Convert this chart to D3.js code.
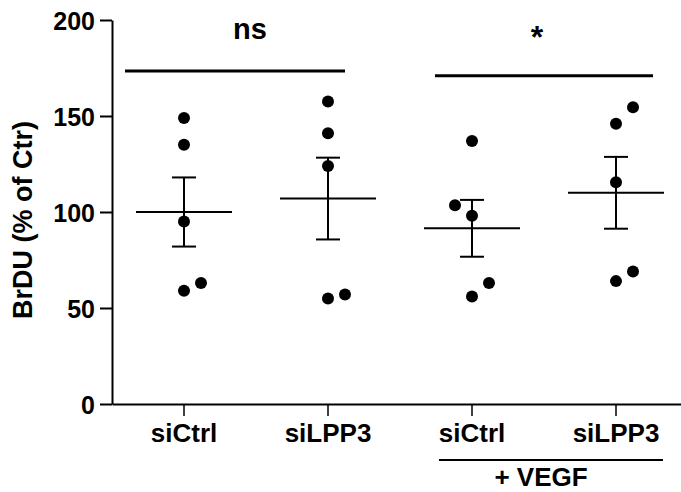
<!DOCTYPE html>
<html>
<head>
<meta charset="utf-8">
<script src="https://cdn.jsdelivr.net/npm/d3@7"></script>
<style>
  html, body { margin: 0; padding: 0; background: #fff; }
  svg { display: block; }
  text { font-family: "Liberation Sans", Arial, Helvetica, sans-serif; font-weight: bold; fill: #000; }
</style>
</head>
<body>
<div id="chart"></div>
<script>
// values
const groups = ['siCtrl', 'siLPP3', 'siCtrl ', 'siLPP3 '];
const labels = ['siCtrl', 'siLPP3', 'siCtrl', 'siLPP3'];
const points = [
    [149, 135, 95, 59, 63],
    [157.5, 141, 124, 55, 57],
    [137, 103.5, 98, 56, 63],
    [154.5, 146, 115.5, 64, 69]
];
const means = [100, 107, 91.5, 110];
const sems = [18, 21.3, 14.8, 18.7];
const yTicks = [0, 50, 100, 150, 200];
const comparisons = [
    { from: 0, to: 1, label: 'ns', value: 173.5 },
    { from: 2, to: 3, label: '*', value: 171 }
];

const W = 681, H = 492;
const margin = { top: 20, right: -7, bottom: 88, left: 112 };

const svg = d3.select('#chart')
    .append('svg')
    .attr('width', W)
    .attr('height', H);

const x = d3.scaleBand()
    .domain(groups)
    .range([margin.left, W - margin.right]);

const y = d3.scaleLinear()
    .domain([0, 200])
    .range([H - margin.bottom, margin.top]);

const cx = g => x(g) + x.bandwidth() / 2;

// y axis
const yAxis = svg.append('g')
    .attr('transform', `translate(${margin.left},0)`)
    .call(d3.axisLeft(y).tickValues(yTicks).tickSize(12).tickPadding(5).tickSizeOuter(0));
yAxis.select('.domain').attr('stroke-width', 2);
yAxis.selectAll('.tick line').attr('stroke-width', 2);
yAxis.selectAll('.tick text')
    .style('font-size', '25px')
    .attr('dy', '0.36em');

// x axis
const xAxis = svg.append('g')
    .attr('transform', `translate(0,${y(0)})`)
    .call(d3.axisBottom(x).tickSize(12).tickPadding(7).tickSizeOuter(0).tickFormat((d, i) => labels[i]));
xAxis.select('.domain').attr('stroke-width', 2);
xAxis.selectAll('.tick line').attr('stroke-width', 1.5);
xAxis.selectAll('.tick text')
    .style('font-size', '26px')
    .attr('dy', '0.72em');

// y label
svg.append('text')
    .attr('transform', `translate(32,${220}) rotate(-90)`)
    .attr('text-anchor', 'middle')
    .style('font-size', '27px')
    .text('BrDU (% of Ctr)');

// + VEGF bracket
svg.append('line')
    .attr('x1', cx(groups[2]) - 33)
    .attr('x2', cx(groups[3]) + 47)
    .attr('y1', 460).attr('y2', 460)
    .attr('stroke', '#000')
    .attr('stroke-width', 2);
svg.append('text')
    .attr('x', (cx(groups[2]) + cx(groups[3])) / 2 - 3)
    .attr('y', 486)
    .attr('text-anchor', 'middle')
    .style('font-size', '26px')
    .text('+ VEGF');

// dodge overlapping dots sideways (left if inside the SEM range, else right)
const R = 6, shift = 17;
points.forEach((vals, gi) => {
    const placed = [];
    const lo = means[gi] - sems[gi], hi = means[gi] + sems[gi];
    vals.slice().sort((a, b) => a - b).forEach(v => {
        const py = y(v);
        const hit = placed.some(p => p.dx === 0 && Math.abs(p.y - py) < 20);
        let dx = 0;
        if (hit) dx = (v > lo && v < hi) ? -shift : shift;
        placed.push({ v, y: py, dx });
    });
    svg.append('g')
        .selectAll('circle')
        .data(placed)
        .join('circle')
        .attr('cx', d => cx(groups[gi]) + d.dx)
        .attr('cy', d => d.y)
        .attr('r', R)
        .attr('fill', '#000');
});

// mean +- SEM
const stats = svg.append('g')
    .selectAll('g')
    .data(groups)
    .join('g')
    .attr('stroke', '#000')
    .attr('stroke-width', 2);

stats.append('line')
    .attr('x1', d => cx(d) - 48).attr('x2', d => cx(d) + 48)
    .attr('y1', (d, i) => y(means[i])).attr('y2', (d, i) => y(means[i]));
stats.append('line')
    .attr('x1', d => cx(d)).attr('x2', d => cx(d))
    .attr('y1', (d, i) => y(means[i] - sems[i])).attr('y2', (d, i) => y(means[i] + sems[i]));
stats.append('line')
    .attr('x1', d => cx(d) - 12).attr('x2', d => cx(d) + 12)
    .attr('y1', (d, i) => y(means[i] + sems[i])).attr('y2', (d, i) => y(means[i] + sems[i]));
stats.append('line')
    .attr('x1', d => cx(d) - 12).attr('x2', d => cx(d) + 12)
    .attr('y1', (d, i) => y(means[i] - sems[i])).attr('y2', (d, i) => y(means[i] - sems[i]));

// significance bars
comparisons.forEach(c => {
    const star = c.label === '*';
    const x1 = cx(groups[c.from]) - (star ? 37 : 59);
    const x2 = cx(groups[c.to]) + (star ? 37 : 17);
    svg.append('line')
        .attr('x1', x1).attr('x2', x2)
        .attr('y1', y(c.value)).attr('y2', y(c.value))
        .attr('stroke', '#000')
        .attr('stroke-width', 3);
    svg.append('text')
        .attr('x', (x1 + x2) / 2 + (star ? -7 : 15))
        .attr('y', star ? y(c.value) - 28 : y(c.value) - 32)
        .attr('text-anchor', 'middle')
        .style('font-size', star ? '32px' : '29px')
        .text(c.label);
});
</script>
</body>
</html>
